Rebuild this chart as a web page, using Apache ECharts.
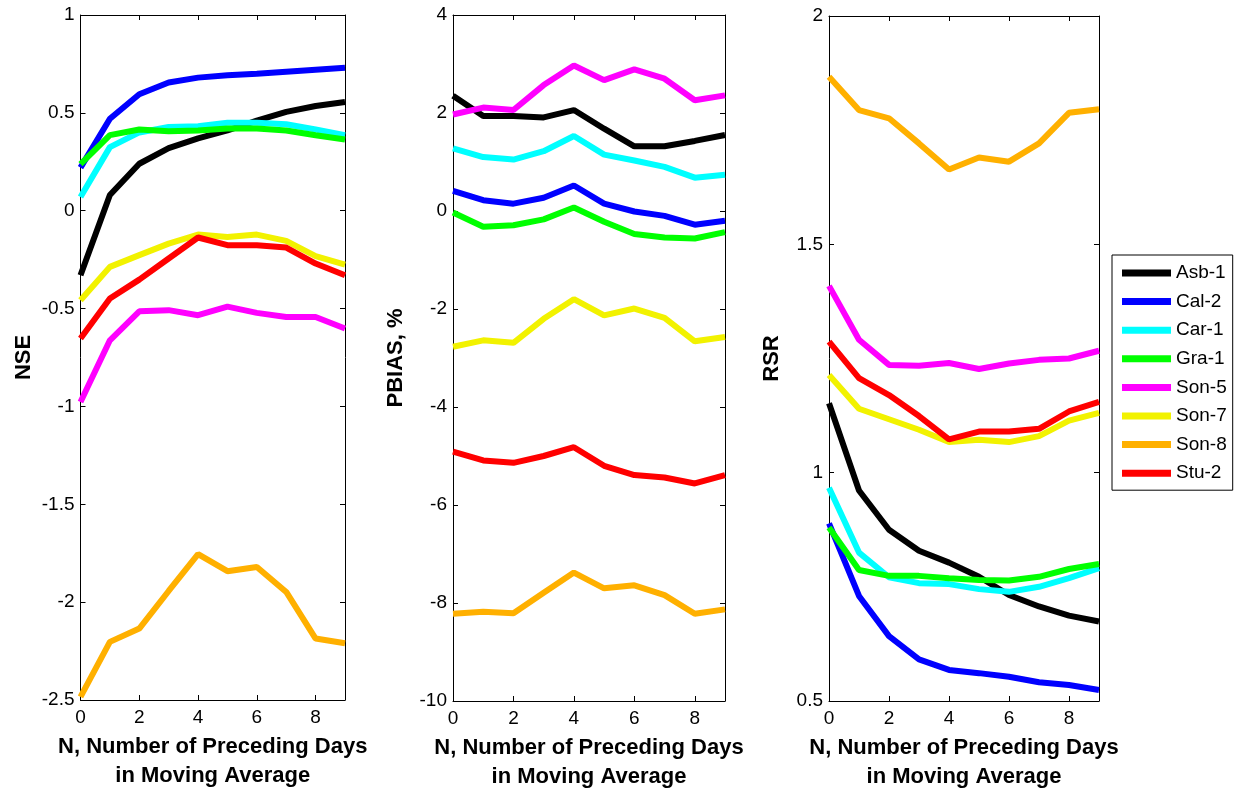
<!DOCTYPE html>
<html lang="en">
<head>
    <meta charset="UTF-8">
    <title>NSE / PBIAS / RSR vs moving average</title>
    <script src="https://cdn.jsdelivr.net/npm/echarts@6/dist/echarts.min.js"></script>
    <style>
        html, body { margin: 0; padding: 0; background: #ffffff; }
        #chart { width: 1238px; height: 792px; }
    </style>
</head>
<body>
    <div id="chart"></div>
    <script>
        // x values: days in the moving average
        var days = [0, 1, 2, 3, 4, 5, 6, 7, 8, 9];

        var sites = ['Asb-1', 'Cal-2', 'Car-1', 'Gra-1', 'Son-5', 'Son-7', 'Son-8', 'Stu-2'];
        var siteColors = ['#000000', '#0000ff', '#00ffff', '#00ff00', '#ff00ff', '#f2f200', '#ffb000', '#ff0000'];

        // NSE, one row per site (same order as sites)
        var nse = [
            [-0.33, 0.08, 0.24, 0.32, 0.37, 0.41, 0.46, 0.505, 0.535, 0.555],
            [0.22, 0.47, 0.595, 0.655, 0.68, 0.692, 0.70, 0.71, 0.72, 0.73],
            [0.07, 0.325, 0.40, 0.428, 0.432, 0.449, 0.45, 0.442, 0.415, 0.386],
            [0.238, 0.386, 0.415, 0.406, 0.41, 0.42, 0.42, 0.41, 0.386, 0.364],
            [-0.977, -0.662, -0.514, -0.508, -0.534, -0.49, -0.522, -0.543, -0.543, -0.602],
            [-0.457, -0.287, -0.227, -0.168, -0.122, -0.134, -0.122, -0.154, -0.232, -0.275],
            [-2.484, -2.203, -2.135, -1.943, -1.755, -1.842, -1.82, -1.948, -2.186, -2.21],
            [-0.653, -0.449, -0.352, -0.244, -0.137, -0.176, -0.176, -0.188, -0.27, -0.33]
        ];

        // PBIAS, %
        var pbias = [
            [2.35, 1.94, 1.94, 1.91, 2.06, 1.68, 1.32, 1.32, 1.43, 1.55],
            [0.41, 0.22, 0.15, 0.27, 0.52, 0.15, -0.01, -0.10, -0.28, -0.20],
            [1.28, 1.10, 1.05, 1.22, 1.53, 1.15, 1.03, 0.90, 0.68, 0.74],
            [-0.03, -0.32, -0.29, -0.17, 0.07, -0.22, -0.47, -0.54, -0.56, -0.43],
            [1.97, 2.11, 2.06, 2.57, 2.97, 2.67, 2.89, 2.70, 2.26, 2.36],
            [-2.77, -2.64, -2.69, -2.20, -1.80, -2.13, -1.99, -2.18, -2.66, -2.57],
            [-8.22, -8.18, -8.21, -7.79, -7.38, -7.70, -7.64, -7.84, -8.22, -8.13],
            [-4.91, -5.09, -5.14, -5.00, -4.82, -5.20, -5.39, -5.44, -5.56, -5.39]
        ];

        // RSR
        var rsr = [
            [1.152, 0.961, 0.875, 0.829, 0.803, 0.772, 0.732, 0.707, 0.687, 0.674],
            [0.889, 0.73, 0.642, 0.591, 0.568, 0.561, 0.553, 0.541, 0.535, 0.524],
            [0.967, 0.825, 0.771, 0.758, 0.756, 0.745, 0.739, 0.75, 0.769, 0.791],
            [0.88, 0.787, 0.774, 0.774, 0.769, 0.765, 0.764, 0.772, 0.789, 0.80],
            [1.409, 1.291, 1.236, 1.234, 1.240, 1.227, 1.239, 1.247, 1.25, 1.267],
            [1.214, 1.140, 1.117, 1.094, 1.067, 1.072, 1.067, 1.080, 1.114, 1.131],
            [1.867, 1.794, 1.776, 1.721, 1.664, 1.69, 1.681, 1.721, 1.788, 1.796],
            [1.287, 1.207, 1.170, 1.124, 1.073, 1.090, 1.090, 1.096, 1.134, 1.155]
        ];

        var panelNames = ['NSE', 'PBIAS, %', 'RSR'];
        var panelData = [nse, pbias, rsr];
        var yMin = [-2.5, -10, 0.5];
        var yMax = [1, 4, 2];
        var yStep = [0.5, 2, 0.5];

        var FONT = '"Liberation Sans", Arial, sans-serif';
        var xTitle = 'N, Number of Preceding Days\nin Moving Average';

        var grids = [
            { left: 80.5, top: 15, width: 264.5, height: 685, outerBoundsMode: 'none', containLabel: false },
            { left: 453, top: 15, width: 272, height: 686, outerBoundsMode: 'none', containLabel: false },
            { left: 829, top: 16, width: 270, height: 685, outerBoundsMode: 'none', containLabel: false }
        ];

        var xAxes = [], yAxes = [], series = [];
        var axisLine = { show: true, onZero: false, lineStyle: { color: '#000', width: 1 } };
        var tick = { show: true, inside: true, length: 5, lineStyle: { color: '#000' } };

        for (var g = 0; g < 3; g++) {
            // bottom x axis with labels
            xAxes.push({
                type: 'value', gridIndex: g, min: 0, max: 9, interval: 2,
                position: 'bottom',
                axisLine: axisLine, axisTick: tick, splitLine: { show: false },
                axisLabel: {
                    color: '#000', fontSize: 19, fontFamily: FONT, margin: 8,
                    showMaxLabel: false
                },
                name: xTitle, nameLocation: 'middle', nameGap: 32,
                nameTextStyle: { color: '#000', fontSize: 22, fontWeight: 'bold', fontFamily: FONT, lineHeight: 29 }
            });
            // top x axis, ticks only
            xAxes.push({
                type: 'value', gridIndex: g, min: 0, max: 9, interval: 2,
                position: 'top',
                axisLine: axisLine, axisTick: tick, splitLine: { show: false },
                axisLabel: { show: false }
            });
            yAxes.push({
                type: 'value', gridIndex: g, min: yMin[g], max: yMax[g], interval: yStep[g],
                position: 'left',
                axisLine: axisLine, axisTick: tick, splitLine: { show: false },
                axisLabel: { color: '#000', fontSize: 19, fontFamily: FONT, margin: 6 },
                name: panelNames[g], nameLocation: 'middle', nameGap: 46, nameRotate: 90,
                nameTextStyle: { color: '#000', fontSize: 22, fontWeight: 'bold', fontFamily: FONT }
            });
            yAxes.push({
                type: 'value', gridIndex: g, min: yMin[g], max: yMax[g], interval: yStep[g],
                position: 'right',
                axisLine: axisLine, axisTick: tick, splitLine: { show: false },
                axisLabel: { show: false }
            });

            for (var i = 0; i < sites.length; i++) {
                var vals = panelData[g][i];
                series.push({
                    name: sites[i],
                    type: 'line',
                    xAxisIndex: g * 2,
                    yAxisIndex: g * 2,
                    data: days.map(function (d, k) { return [d, vals[k]]; }),
                    symbol: 'none',
                    color: siteColors[i],
                    lineStyle: { width: 6, color: siteColors[i] },
                    animation: false
                });
            }
        }

        var chart = echarts.init(document.getElementById('chart'), null, { renderer: 'canvas' });
        chart.setOption({
            backgroundColor: '#ffffff',
            animation: false,
            grid: grids,
            xAxis: xAxes,
            yAxis: yAxes,
            legend: {
                data: sites,
                orient: 'vertical',
                left: 1112, top: 255,
                padding: [8, 6, 7, 10],
                borderColor: '#000', borderWidth: 1,
                icon: 'rect', itemWidth: 49, itemHeight: 7, itemGap: 8.6,
                textStyle: { color: '#000', fontSize: 19, fontFamily: FONT, lineHeight: 20 }
            },
            series: series
        });
    </script>
</body>
</html>
